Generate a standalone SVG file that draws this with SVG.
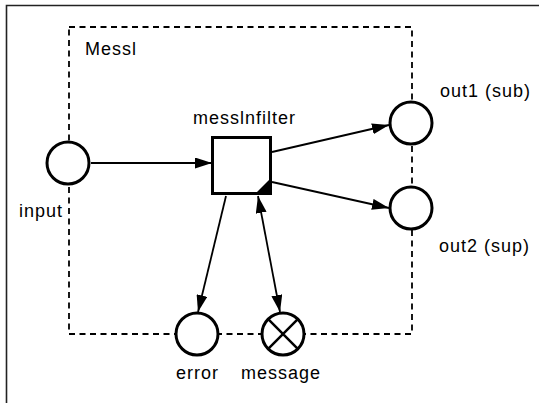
<svg xmlns="http://www.w3.org/2000/svg" width="539" height="403" viewBox="0 0 539 403">
  <style>
    .lbl { font-family: "Liberation Sans", Arial, sans-serif; font-size: 18px; letter-spacing: 1px; fill: #000; }
    .port { fill: #fff; stroke: #000; stroke-width: 3; }
    .edge { fill: none; stroke: #000; stroke-width: 1.8; }
    .bound { fill: none; stroke: #000; stroke-width: 1.8; stroke-dasharray: 6 4.5; }
    .frame { fill: none; stroke: #222; stroke-width: 1.6; }
  </style>
  <defs>
    <marker id="arrow" viewBox="0 0 17 11" refX="17" refY="5.5" markerWidth="17" markerHeight="11" markerUnits="userSpaceOnUse" orient="auto-start-reverse">
      <path d="M0,0 L17,5.5 L0,11 z" fill="#000"/>
    </marker>
  </defs>

  <rect width="539" height="403" fill="#fff"/>

  <!-- outer frame (only top and left edges visible) -->
  <path class="frame" d="M6.5,404 L6.5,5.5 L540,5.5"/>

  <!-- component boundary -->
  <g id="messl">
    <rect class="bound" x="69" y="27" width="343" height="307"/>
    <text class="lbl" x="85" y="55">Messl</text>
  </g>

  <!-- connectors -->
  <g id="connectors">
    <line class="edge" x1="91" y1="163" x2="212" y2="163" marker-end="url(#arrow)"/>
    <line class="edge" x1="272" y1="152" x2="389" y2="125" marker-end="url(#arrow)"/>
    <line class="edge" x1="272" y1="182" x2="389" y2="208" marker-end="url(#arrow)"/>
    <line class="edge" x1="226" y1="196" x2="198" y2="312" marker-end="url(#arrow)"/>
    <line class="edge" x1="258" y1="196" x2="280" y2="312" marker-start="url(#arrow)" marker-end="url(#arrow)"/>
  </g>

  <!-- filter process with filled corner mark -->
  <g id="messlnfilter">
    <rect x="212.5" y="137.5" width="58" height="56" fill="#fff" stroke="#000" stroke-width="3"/>
    <polygon points="254,195 272,195 272,177" fill="#000"/>
    <text class="lbl" x="193" y="124">messlnfilter</text>
  </g>

  <g id="input">
    <circle class="port" cx="68" cy="163" r="21"/>
    <text class="lbl" x="19" y="217">input</text>
  </g>

  <g id="out1">
    <circle class="port" cx="411" cy="123" r="21"/>
    <text class="lbl" x="440" y="97">out1 (sub)</text>
  </g>

  <g id="out2">
    <circle class="port" cx="411" cy="208" r="21"/>
    <text class="lbl" x="439" y="252">out2 (sup)</text>
  </g>

  <g id="error">
    <circle class="port" cx="197" cy="334" r="21"/>
    <text class="lbl" x="176" y="379">error</text>
  </g>

  <g id="message">
    <circle class="port" cx="283" cy="334" r="21"/>
    <path d="M268.2,319.2 L297.8,348.8 M297.8,319.2 L268.2,348.8" stroke="#000" stroke-width="2.5"/>
    <text class="lbl" x="241" y="379">message</text>
  </g>
</svg>
